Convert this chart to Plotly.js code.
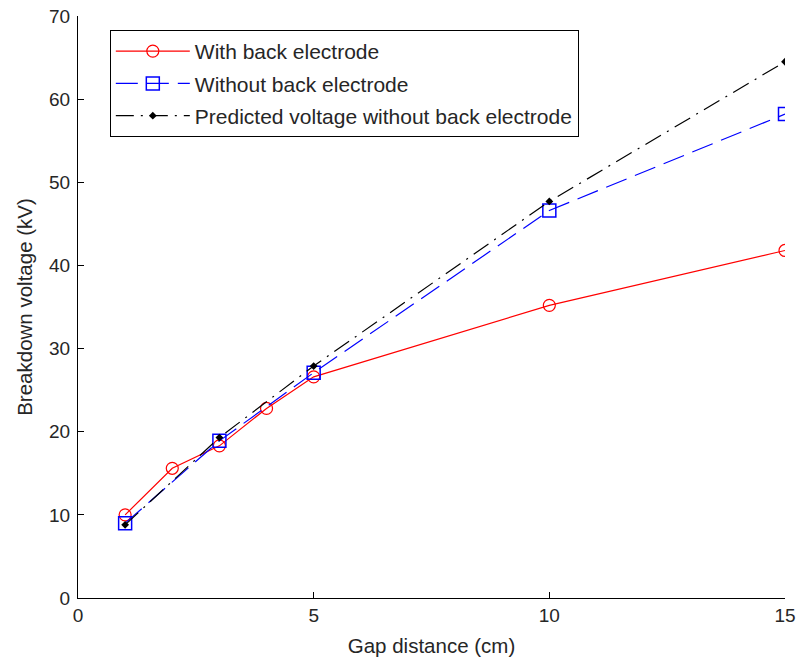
<!DOCTYPE html>
<html><head><meta charset="utf-8">
<script src="https://cdn.plot.ly/plotly-3.0.1.min.js"></script>
<style>html,body{margin:0;padding:0;background:#fff}#c{width:797px;height:662px}</style>
</head><body><div id="c"></div>
<script>
const xWith = [1, 2, 3, 4, 5, 10, 15];
const yWith = [10.0, 15.6, 18.3, 22.8, 26.6, 35.2, 41.8];
const xWithout = [1, 3, 5, 10, 15];
const yWithout = [9.0, 18.9, 27.1, 46.6, 58.2];
const xPred = [1, 3, 5, 10, 15];
const yPred = [8.8, 19.3, 27.9, 47.7, 64.5];
const names = ["With back electrode", "Without back electrode", "Predicted voltage without back electrode"];

const traces = [
  {x: xWith, y: yWith, name: names[0], legendgroup: "a", mode: "lines+markers",
   line: {color: "#ff0000", width: 1.2},
   marker: {symbol: "circle-open", size: 12, color: "#ff0000", line: {width: 1.2}}},
  {x: xWithout, y: yWithout, name: names[1], legendgroup: "b", mode: "lines+markers",
   line: {color: "#0000ff", width: 1.2, dash: "22px,9px"},
   marker: {symbol: "square-open", size: 13, color: "#0000ff", line: {width: 1.5}}},
  {x: xPred, y: yPred, name: names[2], legendgroup: "c", mode: "lines+markers",
   line: {color: "#000000", width: 1.2, dash: "18px,7px,2px,7px"},
   marker: {symbol: "diamond", size: 6, color: "#000000"}}
];

const layout = {
  width: 797, height: 662,
  margin: {l: 78, r: 12, t: 16, b: 64},
  paper_bgcolor: "#fff", plot_bgcolor: "#fff",
  font: {family: "Arial, Liberation Sans, sans-serif", size: 19, color: "#262626"},
  showlegend: true,
  legend: {x: 0.045, y: 0.976, xanchor: "left", yanchor: "top",
    bordercolor: "#000", borderwidth: 1, bgcolor: "#fff",
    font: {size: 21, color: "#262626"}, tracegroupgap: 2, itemwidth: 74},
  xaxis: {range: [0, 15], tickvals: [0, 5, 10, 15], ticks: "inside", ticklen: 6,
    showline: true, linecolor: "#000", linewidth: 1, tickcolor: "#000",
    showgrid: false, zeroline: false, mirror: false,
    tickfont: {size: 19},
    title: {text: "Gap distance (cm)", font: {size: 20.5}, standoff: 13}},
  yaxis: {range: [0, 70], dtick: 10, ticks: "inside", ticklen: 6,
    showline: true, linecolor: "#000", linewidth: 1, tickcolor: "#000",
    showgrid: false, zeroline: false, mirror: false,
    tickfont: {size: 19}, ticklabelstandoff: 3,
    title: {text: "Breakdown voltage (kV)", font: {size: 20.5}, standoff: 10}}
};
Plotly.newPlot("c", traces, layout, {displayModeBar: false});
</script></body></html>
